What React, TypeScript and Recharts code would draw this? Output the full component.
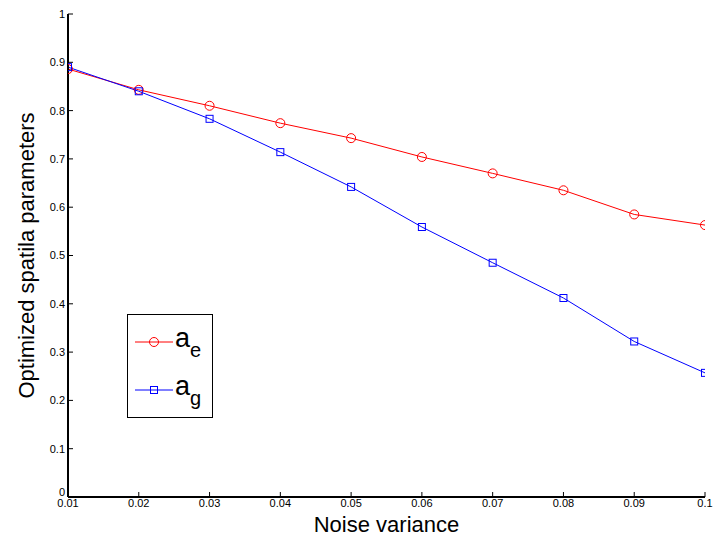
import { LineChart, Line, XAxis, YAxis } from 'recharts';

const noiseVariance = [0.01, 0.02, 0.03, 0.04, 0.05, 0.06, 0.07, 0.08, 0.09, 0.1];
const aE = [0.886, 0.843, 0.81, 0.774, 0.743, 0.704, 0.67, 0.635, 0.585, 0.563];
const aG = [0.89, 0.84, 0.783, 0.714, 0.642, 0.559, 0.485, 0.412, 0.322, 0.257];
const xTicks = [0.01, 0.02, 0.03, 0.04, 0.05, 0.06, 0.07, 0.08, 0.09, 0.1];
const yTicks = [0, 0.1, 0.2, 0.3, 0.4, 0.5, 0.6, 0.7, 0.8, 0.9, 1];

const data = noiseVariance.map((x, i) => ({ x, ae: aE[i], ag: aG[i] }));

const font = 'Liberation Sans, Arial, sans-serif';
const tickStyle = { fontSize: 11, fill: '#000', fontFamily: font };
const axisLine = { stroke: '#000', strokeWidth: 2 };

const Square = (props: any) => {
  const { cx, cy } = props;
  if (cx == null || cy == null) return null;
  return <rect x={cx - 3.5} y={cy - 3.5} width={7} height={7} fill="none" stroke="#0000ff" strokeWidth={1} />;
};

const Circle = (props: any) => {
  const { cx, cy } = props;
  if (cx == null || cy == null) return null;
  return <circle cx={cx} cy={cy} r={4.5} fill="none" stroke="#ff0000" strokeWidth={1} />;
};

const noLabel = () => <g />;

// y tick labels; the "0" sits a bit higher so it clears "0.01"
const YTick = (props: any) => {
  const { x, y, payload } = props;
  const v = payload.value;
  return (
    <text x={x} y={v === 0 ? y - 5 : y} dy="0.355em" textAnchor="end" {...tickStyle}>
      {String(v)}
    </text>
  );
};

function LegendBox() {
  const row = (color: string, sub: string, square: boolean) => (
    <div style={{ display: 'flex', alignItems: 'center', height: 48 }}>
      <svg width={40} height={20} style={{ marginLeft: 7 }}>
        <line x1={0} y1={10} x2={38} y2={10} stroke={color} strokeWidth={1} />
        {square ? (
          <rect x={15.5} y={6.5} width={7} height={7} fill="none" stroke={color} />
        ) : (
          <circle cx={19} cy={10} r={4.5} fill="none" stroke={color} />
        )}
      </svg>
      <span style={{ fontFamily: font, fontSize: 27, color: '#000', lineHeight: 1 }}>
        a<sub style={{ fontSize: 20, verticalAlign: -10 }}>{sub}</sub>
      </span>
    </div>
  );
  return (
    <div
      style={{
        position: 'absolute',
        left: 127,
        top: 314,
        border: '1px solid #000',
        background: '#fff',
        width: 86,
        height: 104,
        boxSizing: 'border-box',
        paddingTop: 3,
      }}
    >
      {row('#ff0000', 'e', false)}
      {row('#0000ff', 'g', true)}
    </div>
  );
}

export default function App() {
  return (
    <div style={{ position: 'absolute', left: 0, top: 0, width: 713, height: 539, background: '#fff' }}>
      <LineChart width={713} height={539} data={data} margin={{ top: 14, right: 8, bottom: 0, left: 0 }}>
        <XAxis
          xAxisId="b"
          dataKey="x"
          type="number"
          domain={[0.01, 0.1]}
          ticks={xTicks}
          tickFormatter={(v: number) => String(v)}
          allowDataOverflow
          height={42}
          tickSize={-5}
          tickMargin={7}
          tick={tickStyle}
          axisLine={axisLine}
          tickLine={{ stroke: '#000' }}
          label={{ value: 'Noise variance', position: 'insideBottom', offset: 7, style: { fontSize: 22, fill: '#000', fontFamily: font } }}
        />
        <XAxis
          xAxisId="t"
          orientation="top"
          dataKey="x"
          type="number"
          domain={[0.01, 0.1]}
          ticks={xTicks}
          height={0}
          tickSize={-5}
          tick={noLabel}
          axisLine={axisLine}
          tickLine={{ stroke: '#000' }}
        />
        <YAxis
          yAxisId="l"
          type="number"
          domain={[0, 1]}
          ticks={yTicks}
          width={68}
          tickSize={-5}
          tickMargin={8}
          tick={<YTick />}
          axisLine={axisLine}
          tickLine={{ stroke: '#000' }}
          label={{
            value: 'Optimized spatila parameters',
            angle: -90,
            position: 'insideLeft',
            offset: 26,
            style: { textAnchor: 'middle', fontSize: 22, fill: '#000', fontFamily: font },
          }}
        />
        <YAxis
          yAxisId="r"
          orientation="right"
          type="number"
          domain={[0, 1]}
          ticks={yTicks}
          width={0}
          tickSize={-5}
          tick={noLabel}
          axisLine={axisLine}
          tickLine={{ stroke: '#000' }}
        />
        <Line
          xAxisId="b"
          yAxisId="l"
          dataKey="ae"
          stroke="#ff0000"
          strokeWidth={1}
          dot={<Circle />}
          activeDot={false}
          isAnimationActive={false}
        />
        <Line
          xAxisId="b"
          yAxisId="l"
          dataKey="ag"
          stroke="#0000ff"
          strokeWidth={1}
          dot={<Square />}
          activeDot={false}
          isAnimationActive={false}
        />
      </LineChart>
      <LegendBox />
    </div>
  );
}
